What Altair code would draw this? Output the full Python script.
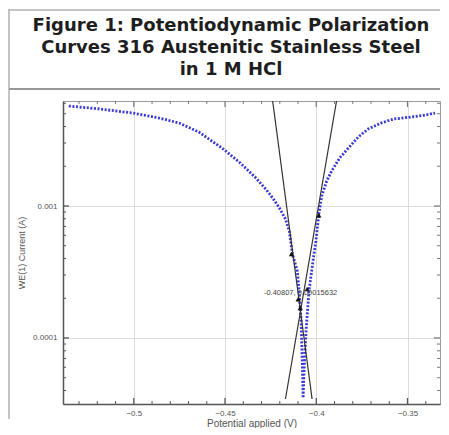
import altair as alt
import pandas as pd

# ---- data ----
# Blue measured curve: potential (V) and current (A)
curve_potential = [-0.5356, -0.5183, -0.5005, -0.4860, -0.4752, -0.4644, -0.4509, -0.4417,
                   -0.4331, -0.4277, -0.4239, -0.4202, -0.4169, -0.4148, -0.4131, -0.4104,
                   -0.4094, -0.4083, -0.4077, -0.4072,
                   -0.4067, -0.4056, -0.4040, -0.4018, -0.4002, -0.3986, -0.3970, -0.3943,
                   -0.3916, -0.3872, -0.3824, -0.3770, -0.3716, -0.3646, -0.3576, -0.3484,
                   -0.3403, -0.3349]
curve_current = [5.72e-3, 5.43e-3, 5.06e-3, 4.64e-3, 4.25e-3, 3.64e-3, 2.70e-3, 2.12e-3,
                 1.63e-3, 1.345e-3, 1.15e-3, 9.66e-4, 7.97e-4, 6.46e-4, 4.33e-4, 3.22e-4,
                 2.27e-4, 1.345e-4, 6.69e-5, 3.51e-5,
                 5.62e-5, 1.13e-4, 2.27e-4, 3.83e-4, 5.43e-4, 8.70e-4, 1.19e-3, 1.546e-3,
                 1.84e-3, 2.31e-3, 2.75e-3, 3.33e-3, 3.83e-3, 4.25e-3, 4.56e-3, 4.72e-3,
                 4.89e-3, 5.06e-3]

# Tafel fit lines (start / end)
tafel_id = ["cathodic", "anodic"]
tafel_x1 = [-0.4239, -0.3889]
tafel_y1 = [6.245e-3, 6.245e-3]
tafel_x2 = [-0.4023, -0.4169]
tafel_y2 = [3.45e-5, 3.45e-5]

# Black fit markers
marker_x = [-0.4136, -0.3986, -0.4099, -0.4088, -0.4050]
marker_y = [4.33e-4, 8.50e-4, 1.97e-4, 1.69e-4, 2.35e-4]

# Intersection annotation
ann_x = [-0.4086]
ann_y = [2.19e-4]
ann_text = ["-0.40807, 0.00015632"]

# Axis ticks
x_major = [-0.5, -0.45, -0.4, -0.35]
x_minor = [-0.53, -0.52, -0.51, -0.49, -0.48, -0.47, -0.46, -0.44, -0.43, -0.42,
           -0.41, -0.39, -0.38, -0.37, -0.36, -0.34]
y_major = [0.001, 0.0001]
y_minor = [4e-5, 5e-5, 6e-5, 7e-5, 8e-5, 9e-5, 2e-4, 3e-4, 4e-4, 5e-4, 6e-4, 7e-4,
           8e-4, 9e-4, 2e-3, 3e-3, 4e-3, 5e-3, 6e-3]

title_lines = ["Figure 1: Potentiodynamic Polarization",
               "Curves 316 Austenitic Stainless Steel",
               "in 1 M HCl"]

W, H = 377, 303
XDOM = [-0.5388, -0.3322]
YDOM = [3.162e-5, 6.245e-3]

xs = alt.Scale(domain=XDOM, nice=False, zero=False)
ys = alt.Scale(type="log", domain=YDOM, nice=False)

curve_df = pd.DataFrame({"pot": curve_potential, "cur": curve_current})
tafel_df = pd.DataFrame({"id": tafel_id, "x1": tafel_x1, "y1": tafel_y1,
                         "x2": tafel_x2, "y2": tafel_y2})
marker_df = pd.DataFrame({"pot": marker_x, "cur": marker_y})
ann_df = pd.DataFrame({"pot": ann_x, "cur": ann_y, "t": ann_text})
xmaj_df = pd.DataFrame({"v": x_major})
xmin_df = pd.DataFrame({"v": x_minor})
ymaj_df = pd.DataFrame({"v": y_major})
ymin_df = pd.DataFrame({"v": y_minor})
one = pd.DataFrame({"a": [0]})

x_axis = alt.Axis(values=x_major, format="~g", ticks=False, grid=True, gridColor="#dcdcdc",
                  domainColor="#555", domainWidth=1.5, labelFontSize=8, labelColor="#555",
                  labelFont="Liberation Sans", labelPadding=5,
                  title="Potential applied (V)", titleFontSize=10, titleFontWeight="normal",
                  titleColor="#555", titleFont="Liberation Sans", titlePadding=1)
y_axis = alt.Axis(values=y_major, format="~g", ticks=False, grid=True, gridColor="#dcdcdc",
                  domainColor="#555", domainWidth=1.5, labelFontSize=8, labelColor="#555",
                  labelFont="Liberation Sans", labelPadding=6,
                  title="WE(1) Current (A)", titleFontSize=9, titleFontWeight="normal",
                  titleColor="#555", titleFont="Liberation Sans", titlePadding=6)

curve = alt.Chart(curve_df).mark_line(color="#3a3ad4", strokeWidth=2.8, strokeDash=[2, 1.6],
                                      clip=True).encode(
    x=alt.X("pot:Q", scale=xs, axis=x_axis),
    y=alt.Y("cur:Q", scale=ys, axis=y_axis),
    order=alt.Order("idx:Q"),
).transform_window(idx="row_number()")

tafel = alt.Chart(tafel_df).mark_rule(color="#333", strokeWidth=1.2, clip=True).encode(
    x=alt.X("x1:Q", scale=xs), y=alt.Y("y1:Q", scale=ys),
    x2="x2:Q", y2="y2:Q")

markers = alt.Chart(marker_df).mark_point(shape="triangle-up", filled=True, color="#111",
                                          size=28, opacity=1).encode(
    x=alt.X("pot:Q", scale=xs), y=alt.Y("cur:Q", scale=ys))

ann = alt.Chart(ann_df).mark_text(fontSize=7.5, color="#444", font="Liberation Sans",
                                  align="center", baseline="middle").encode(
    x=alt.X("pot:Q", scale=xs), y=alt.Y("cur:Q", scale=ys), text="t:N")

tick_col = "#555"
xmaj_b = alt.Chart(xmaj_df).mark_rule(color=tick_col, strokeWidth=1.3).encode(
    x=alt.X("v:Q", scale=xs), y=alt.value(H), y2=alt.value(H - 6))
xmin_b = alt.Chart(xmin_df).mark_rule(color=tick_col, strokeWidth=1).encode(
    x=alt.X("v:Q", scale=xs), y=alt.value(H), y2=alt.value(H - 3))
xmaj_t = alt.Chart(xmaj_df).mark_rule(color="#777", strokeWidth=1.2).encode(
    x=alt.X("v:Q", scale=xs), y=alt.value(0), y2=alt.value(6))
xmin_t = alt.Chart(xmin_df).mark_rule(color="#777", strokeWidth=1).encode(
    x=alt.X("v:Q", scale=xs), y=alt.value(0), y2=alt.value(3))
ymaj_l = alt.Chart(ymaj_df).mark_rule(color=tick_col, strokeWidth=1.3).encode(
    y=alt.Y("v:Q", scale=ys), x=alt.value(0), x2=alt.value(6))
ymin_l = alt.Chart(ymin_df).mark_rule(color=tick_col, strokeWidth=1).encode(
    y=alt.Y("v:Q", scale=ys), x=alt.value(0), x2=alt.value(3))
ymaj_r = alt.Chart(ymaj_df).mark_rule(color="#777", strokeWidth=1.2).encode(
    y=alt.Y("v:Q", scale=ys), x=alt.value(W), x2=alt.value(W - 6))
ymin_r = alt.Chart(ymin_df).mark_rule(color="#777", strokeWidth=1).encode(
    y=alt.Y("v:Q", scale=ys), x=alt.value(W), x2=alt.value(W - 3))

# decorative frame boxes around title and chart
box_col = "#b0b0b0"
box_left = alt.Chart(one).mark_rule(color=box_col, strokeWidth=1.5).encode(
    x=alt.value(-54), y=alt.value(-92), y2=alt.value(318))
box_top = alt.Chart(one).mark_rule(color=box_col, strokeWidth=1.5).encode(
    x=alt.value(-54), x2=alt.value(W), y=alt.value(-91))
box_mid = alt.Chart(one).mark_rule(color="#999", strokeWidth=2).encode(
    x=alt.value(-54), x2=alt.value(W), y=alt.value(-12))

title = alt.Chart(one).mark_text(fontSize=18, fontWeight="bold", font="DejaVu Sans",
                                 color="#1e1e1e", align="center", baseline="middle",
                                 lineBreak="\n", lineHeight=22).encode(
    x=alt.value(168), y=alt.value(-75), text=alt.value("\n".join(title_lines)))

chart = alt.layer(
    curve, tafel, markers, ann,
    xmaj_b, xmin_b, xmaj_t, xmin_t, ymaj_l, ymin_l, ymaj_r, ymin_r,
    box_left, box_top, box_mid, title,
).properties(width=W, height=H, padding=0, background="white").configure_view(
    stroke="#9a9a9a", strokeWidth=1)

chart.save("out.html", embed_options={"renderer": "svg", "actions": False})
